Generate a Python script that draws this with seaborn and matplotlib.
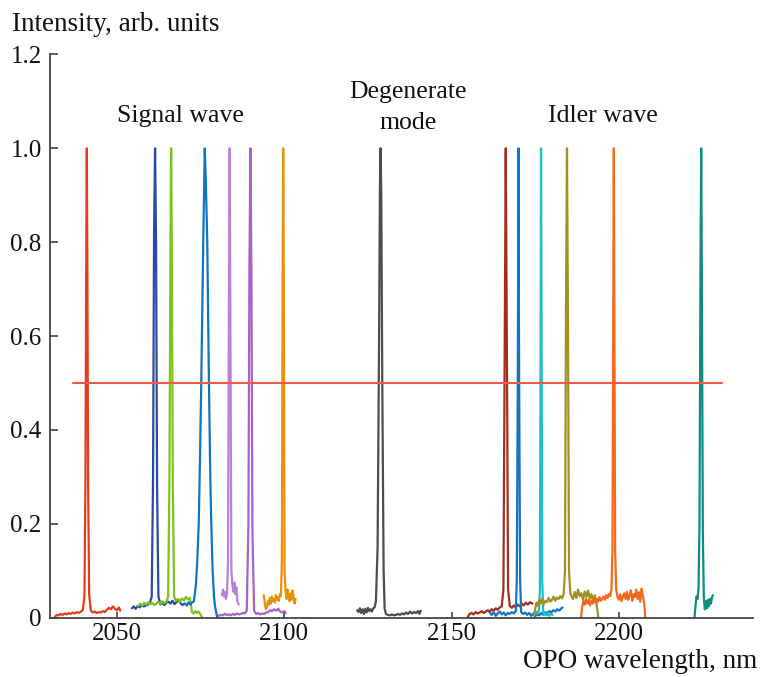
import numpy as np
import pandas as pd
import matplotlib
matplotlib.use("Agg")
import matplotlib.pyplot as plt
import seaborn as sns

# ---------------- data ----------------
s1_wl = [2031.5, 2032.0, 2032.6, 2033.2, 2033.8, 2034.4, 2035.0, 2035.6, 2036.2, 2036.8, 2037.4, 2038.0, 2038.6, 2039.2, 2039.8, 2040.3, 2040.6, 2040.85, 2041.0, 2041.15, 2041.4, 2041.7, 2042.2, 2042.8, 2043.4, 2044.0, 2044.6, 2045.2, 2045.8, 2046.4, 2047.0, 2047.6, 2048.2, 2048.8, 2049.4, 2050.0, 2050.6, 2051.0]
s1_I = [0.002, 0.006, 0.005, 0.008, 0.006, 0.009, 0.007, 0.010, 0.008, 0.011, 0.009, 0.012, 0.010, 0.013, 0.016, 0.045, 0.30, 0.80, 1.00, 0.78, 0.28, 0.05, 0.015, 0.011, 0.013, 0.010, 0.012, 0.011, 0.014, 0.012, 0.017, 0.021, 0.018, 0.024, 0.019, 0.016, 0.022, 0.015]

s2_wl = [2054.5, 2055.0, 2055.6, 2056.2, 2056.8, 2057.4, 2058.0, 2058.6, 2059.2, 2059.8, 2060.4, 2060.8, 2061.1, 2061.4, 2061.7, 2062.0, 2062.4, 2063.0, 2063.6, 2064.2, 2064.8, 2065.4, 2066.0, 2066.6, 2067.2, 2067.8, 2068.4, 2069.0, 2069.6, 2070.2]
s2_I = [0.020, 0.024, 0.019, 0.025, 0.022, 0.027, 0.024, 0.026, 0.028, 0.030, 0.045, 0.30, 0.82, 1.00, 0.80, 0.28, 0.045, 0.028, 0.031, 0.027, 0.032, 0.034, 0.030, 0.036, 0.029, 0.033, 0.038, 0.031, 0.027, 0.030]

s3_wl = [2056.4, 2057.0, 2057.6, 2058.2, 2058.8, 2059.4, 2060.0, 2060.6, 2061.2, 2061.8, 2062.4, 2063.0, 2063.6, 2064.2, 2064.8, 2065.3, 2065.7, 2066.0, 2066.2, 2066.4, 2066.7, 2067.1, 2067.6, 2068.2, 2068.8, 2069.4, 2070.0, 2070.6, 2071.2, 2071.8, 2072.1, 2072.4, 2072.9, 2073.4, 2073.9, 2074.4, 2074.9, 2075.5]
s3_I = [0.025, 0.030, 0.026, 0.032, 0.028, 0.033, 0.029, 0.031, 0.027, 0.030, 0.034, 0.029, 0.035, 0.031, 0.034, 0.045, 0.30, 0.80, 1.00, 0.78, 0.28, 0.045, 0.036, 0.040, 0.034, 0.041, 0.037, 0.044, 0.039, 0.042, 0.030, 0.012, 0.009, 0.014, 0.010, 0.013, 0.008, 0.000]

s4_wl = [2070.4, 2070.9, 2071.4, 2071.9, 2072.4, 2073.0, 2073.6, 2074.0, 2074.45, 2074.85, 2075.2, 2075.8, 2076.25, 2076.6, 2077.0, 2077.5, 2077.9, 2078.2, 2078.6, 2079.0, 2079.3, 2079.7, 2080.0]
s4_I = [0.030, 0.026, 0.033, 0.028, 0.032, 0.035, 0.07, 0.12, 0.20, 0.35, 0.50, 0.80, 1.00, 0.92, 0.80, 0.50, 0.30, 0.20, 0.10, 0.045, 0.025, 0.010, 0.000]

s5_wl = [2081.4, 2081.7, 2082.0, 2082.3, 2082.6, 2082.9, 2083.2, 2083.5, 2083.7, 2083.9, 2084.2, 2084.5, 2084.8, 2085.1, 2085.4, 2085.7, 2086.0, 2086.4]
s5_I = [0.048, 0.060, 0.045, 0.055, 0.040, 0.050, 0.12, 0.70, 1.00, 0.65, 0.10, 0.070, 0.055, 0.075, 0.050, 0.065, 0.035, 0.028]

s6_wl = [2080.4, 2081.0, 2081.6, 2082.2, 2082.8, 2083.4, 2084.0, 2084.6, 2085.2, 2085.8, 2086.4, 2087.0, 2087.6, 2088.2, 2088.8, 2089.3, 2089.6, 2089.9, 2090.2, 2090.5, 2091.0, 2091.6, 2092.2, 2092.8, 2093.4, 2094.0, 2094.6, 2095.2, 2095.8, 2096.4, 2097.0, 2097.6, 2098.2, 2098.8, 2099.4, 2100.0, 2100.4]
s6_I = [0.004, 0.006, 0.005, 0.008, 0.006, 0.007, 0.005, 0.008, 0.006, 0.009, 0.007, 0.008, 0.010, 0.009, 0.015, 0.20, 0.75, 1.00, 0.72, 0.18, 0.015, 0.008, 0.010, 0.007, 0.009, 0.008, 0.011, 0.012, 0.016, 0.014, 0.018, 0.015, 0.019, 0.013, 0.011, 0.014, 0.010]

s7_wl = [2093.9, 2094.2, 2094.5, 2094.8, 2095.1, 2095.4, 2095.7, 2096.0, 2096.3, 2096.6, 2096.9, 2097.2, 2097.5, 2097.8, 2098.1, 2098.4, 2098.7, 2099.0, 2099.3, 2099.5, 2099.7, 2099.9, 2100.1, 2100.4, 2100.7, 2101.0, 2101.3, 2101.6, 2101.9, 2102.2, 2102.5, 2102.8, 2103.1, 2103.4]
s7_I = [0.048, 0.030, 0.018, 0.022, 0.035, 0.028, 0.042, 0.030, 0.045, 0.036, 0.040, 0.032, 0.048, 0.038, 0.044, 0.036, 0.050, 0.046, 0.12, 0.70, 1.00, 0.68, 0.10, 0.055, 0.040, 0.060, 0.045, 0.035, 0.052, 0.038, 0.058, 0.044, 0.030, 0.040]

d_wl = [2121.8, 2122.2, 2122.6, 2123.0, 2123.4, 2123.8, 2124.2, 2124.6, 2125.0, 2125.4, 2125.8, 2126.2, 2126.6, 2127.0, 2127.4, 2127.9, 2128.3, 2128.6, 2128.8, 2129.0, 2129.3, 2129.7, 2130.0, 2130.4, 2131.0, 2131.6, 2132.2, 2132.8, 2133.4, 2134.0, 2134.6, 2135.2, 2135.8, 2136.4, 2137.0, 2137.6, 2138.2, 2138.8, 2139.4, 2140.0, 2140.4, 2140.8]
d_I = [0.016, 0.012, 0.020, 0.010, 0.018, 0.008, 0.019, 0.011, 0.021, 0.014, 0.018, 0.013, 0.020, 0.022, 0.035, 0.15, 0.55, 0.92, 1.00, 0.90, 0.50, 0.10, 0.020, 0.008, 0.006, 0.005, 0.007, 0.005, 0.006, 0.008, 0.006, 0.009, 0.007, 0.011, 0.008, 0.013, 0.009, 0.012, 0.010, 0.014, 0.008, 0.015]

i1_wl = [2154.9, 2155.4, 2156.0, 2156.6, 2157.2, 2157.8, 2158.4, 2159.0, 2159.6, 2160.2, 2160.8, 2161.4, 2162.0, 2162.6, 2163.2, 2163.8, 2164.4, 2165.0, 2165.5, 2165.9, 2166.2, 2166.5, 2166.9, 2167.4, 2168.0, 2168.6, 2169.2, 2169.8, 2170.4, 2171.0, 2171.6, 2172.2, 2172.8, 2173.4, 2174.2]
i1_I = [0.002, 0.008, 0.010, 0.007, 0.012, 0.009, 0.011, 0.014, 0.010, 0.013, 0.016, 0.012, 0.018, 0.015, 0.020, 0.017, 0.022, 0.024, 0.06, 0.60, 1.00, 0.62, 0.06, 0.025, 0.021, 0.026, 0.022, 0.028, 0.024, 0.030, 0.026, 0.032, 0.028, 0.033, 0.030]

i2_wl = [2161.5, 2162.0, 2162.6, 2163.2, 2163.8, 2164.4, 2165.0, 2165.6, 2166.2, 2166.8, 2167.4, 2168.0, 2168.6, 2169.2, 2169.5, 2169.8, 2170.0, 2170.2, 2170.5, 2170.8, 2171.4, 2172.0, 2172.6, 2173.2, 2173.8, 2174.4, 2175.0, 2175.6, 2176.2, 2176.8, 2177.4, 2178.0, 2178.6, 2179.2, 2179.8, 2180.4, 2181.0, 2181.6, 2182.2, 2182.8, 2183.2]
i2_I = [0.010, 0.006, 0.012, 0.004, 0.009, 0.013, 0.007, 0.011, 0.005, 0.010, 0.008, 0.012, 0.009, 0.014, 0.08, 0.50, 1.00, 0.50, 0.08, 0.012, 0.008, 0.011, 0.006, 0.010, 0.004, 0.009, 0.003, 0.007, 0.005, 0.010, 0.006, 0.012, 0.009, 0.014, 0.011, 0.016, 0.013, 0.018, 0.015, 0.020, 0.022]

i3_wl = [2174.9, 2175.2, 2175.5, 2175.8, 2176.1, 2176.4, 2176.6, 2176.75, 2176.9, 2177.1, 2177.4, 2177.7, 2178.0, 2178.4, 2178.8, 2179.2, 2179.6, 2180.2]
i3_I = [0.012, 0.008, 0.013, 0.010, 0.015, 0.06, 0.55, 1.00, 0.60, 0.08, 0.012, 0.006, 0.010, 0.005, 0.009, 0.004, 0.008, 0.006]

i4_wl = [2174.7, 2175.0, 2175.4, 2175.8, 2176.2, 2176.6, 2177.0, 2177.5, 2178.0, 2178.5, 2179.0, 2179.5, 2180.0, 2180.5, 2181.0, 2181.5, 2182.0, 2182.5, 2183.0, 2183.5, 2183.9, 2184.2, 2184.5, 2184.8, 2185.1, 2185.5, 2185.9, 2186.3, 2186.8, 2187.3, 2187.8, 2188.3, 2188.8, 2189.3, 2189.8, 2190.3, 2190.8, 2191.3, 2191.8, 2192.3, 2192.8, 2193.3, 2193.6, 2193.9]
i4_I = [0.005, 0.020, 0.032, 0.025, 0.038, 0.030, 0.040, 0.028, 0.036, 0.033, 0.042, 0.034, 0.038, 0.045, 0.036, 0.043, 0.040, 0.046, 0.041, 0.050, 0.10, 0.65, 1.00, 0.62, 0.10, 0.052, 0.045, 0.040, 0.055, 0.042, 0.060, 0.046, 0.052, 0.038, 0.056, 0.044, 0.058, 0.040, 0.050, 0.035, 0.048, 0.030, 0.015, 0.000]

i5_wl = [2188.7, 2189.0, 2189.4, 2189.8, 2190.2, 2190.6, 2191.0, 2191.4, 2191.8, 2192.2, 2192.6, 2193.0, 2193.4, 2193.8, 2194.2, 2194.6, 2195.0, 2195.4, 2195.8, 2196.2, 2196.6, 2197.0, 2197.4, 2197.8, 2198.1, 2198.35, 2198.5, 2198.65, 2198.9, 2199.2, 2199.6, 2200.0, 2200.4, 2200.8, 2201.2, 2201.6, 2202.0, 2202.4, 2202.8, 2203.2, 2203.6, 2204.0, 2204.4, 2204.8, 2205.2, 2205.6, 2206.0, 2206.4, 2206.8, 2207.2, 2207.6, 2207.9]
i5_I = [0.000, 0.022, 0.035, 0.028, 0.040, 0.030, 0.038, 0.026, 0.036, 0.030, 0.042, 0.032, 0.040, 0.034, 0.044, 0.036, 0.040, 0.045, 0.038, 0.048, 0.042, 0.050, 0.046, 0.060, 0.15, 0.70, 1.00, 0.68, 0.14, 0.060, 0.044, 0.038, 0.050, 0.035, 0.045, 0.052, 0.040, 0.055, 0.038, 0.048, 0.058, 0.036, 0.050, 0.044, 0.060, 0.040, 0.054, 0.034, 0.062, 0.045, 0.030, 0.000]

i6_wl = [2222.6, 2222.9, 2223.2, 2223.5, 2223.8, 2224.1, 2224.4, 2224.6, 2224.8, 2225.1, 2225.4, 2225.7, 2226.0, 2226.3, 2226.6, 2226.9, 2227.2, 2227.5, 2227.8, 2228.1]
i6_I = [0.000, 0.025, 0.045, 0.040, 0.060, 0.20, 0.75, 1.00, 0.72, 0.18, 0.040, 0.018, 0.035, 0.020, 0.038, 0.024, 0.040, 0.030, 0.042, 0.048]

level_wl = [2036.9, 2230.7]
level_I = [0.5, 0.5]

trace_names = ["s1", "s2", "s3", "s4", "s5", "s6", "s7", "d", "i1", "i2", "i3", "i4", "i5", "i6"]
trace_colors = ["#e63c1e", "#2a4aa6", "#7cc31c", "#0e76c0", "#b681df", "#a862cc", "#e8920c",
                "#4d4d4d", "#a0301c", "#1274c4", "#1ec0c6", "#a0921e", "#f36a1a", "#0e8c80"]

x_ticks = [2050, 2100, 2150, 2200]
y_ticks = [0, 0.2, 0.4, 0.6, 0.8, 1.0, 1.2]
y_tick_labels = ["0", "0.2", "0.4", "0.6", "0.8", "1.0", "1.2"]

annotations = [("Signal wave", 2069.0, 1.055), ("Degenerate", 2136.9, 1.108),
               ("mode", 2136.9, 1.041), ("Idler wave", 2195.3, 1.055)]

# ---------------- build table ----------------
series = {
    "s1": (s1_wl, s1_I), "s2": (s2_wl, s2_I), "s3": (s3_wl, s3_I), "s4": (s4_wl, s4_I),
    "s5": (s5_wl, s5_I), "s6": (s6_wl, s6_I), "s7": (s7_wl, s7_I), "d": (d_wl, d_I),
    "i1": (i1_wl, i1_I), "i2": (i2_wl, i2_I), "i3": (i3_wl, i3_I), "i4": (i4_wl, i4_I),
    "i5": (i5_wl, i5_I), "i6": (i6_wl, i6_I),
}
frames = []
for name in trace_names:
    wl, inten = series[name]
    frames.append(pd.DataFrame({"wl": wl, "I": inten, "trace": name}))
df = pd.concat(frames, ignore_index=True)
level_df = pd.DataFrame({"wl": level_wl, "I": level_I})

# ---------------- plot ----------------
sns.set_style("ticks")
plt.rcParams["font.family"] = ["Liberation Serif", "DejaVu Serif"]

fig = plt.figure(figsize=(7.61, 6.77), dpi=100)
ax = fig.add_axes([0.0657, 0.0876, 0.9234, 0.832])

palette = dict(zip(trace_names, trace_colors))
sns.lineplot(data=df, x="wl", y="I", hue="trace", palette=palette, hue_order=trace_names,
             estimator=None, sort=False, legend=False, linewidth=1.6, ax=ax)
sns.lineplot(data=level_df, x="wl", y="I", color="#f0584c", linewidth=1.5,
             estimator=None, sort=False, ax=ax)

ax.set_xlim(2030, 2240)
ax.set_ylim(0, 1.2)
ax.set_xticks(x_ticks)
ax.set_xticklabels([str(t) for t in x_ticks])
ax.set_yticks(y_ticks)
ax.set_yticklabels(y_tick_labels)
ax.set_xlabel("")
ax.set_ylabel("")

for side in ["top", "right"]:
    ax.spines[side].set_visible(False)
for side in ["left", "bottom"]:
    ax.spines[side].set_color("#444444")
    ax.spines[side].set_linewidth(1.3)

ax.tick_params(axis="both", direction="in", colors="#444444", labelcolor="#111111",
               labelsize=18, width=1.2)
ax.tick_params(axis="x", length=4.5, pad=4)
ax.tick_params(axis="y", length=5.5, pad=6)

for txt, x, y in annotations:
    ax.text(x, y, txt, ha="center", va="baseline", fontsize=18.5, color="#111111")

fig.text(0.016, 0.9547, "Intensity, arb. units", ha="left", va="baseline",
         fontsize=19.5, color="#111111")
fig.text(0.9947, 0.013, "OPO wavelength, nm", ha="right", va="baseline",
         fontsize=19.5, color="#111111")

fig.savefig("out.png", dpi=100)
